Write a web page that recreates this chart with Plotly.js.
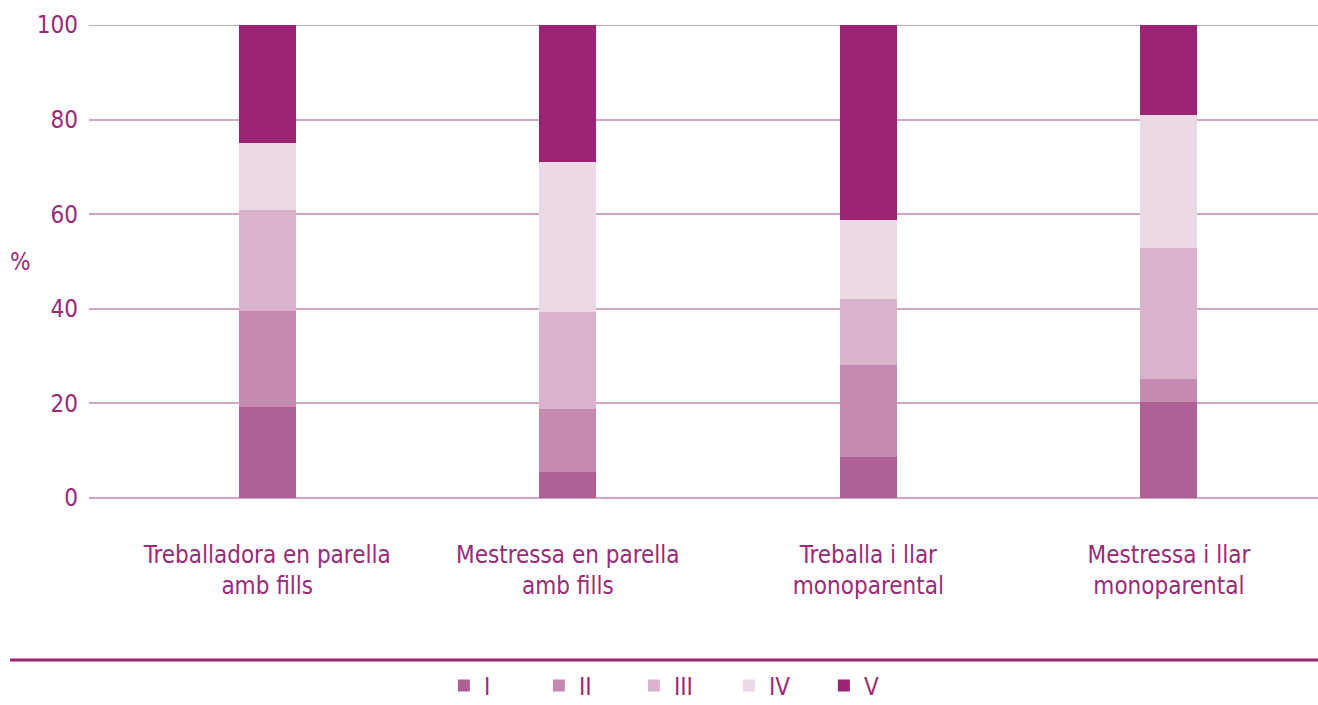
<!DOCTYPE html>
<html>
<head>
<meta charset="utf-8">
<script src="https://cdn.plot.ly/plotly-3.0.1.min.js"></script>
<style>html,body{margin:0;padding:0;background:#fff;}#chart{width:1318px;height:705px;}</style>
</head>
<body>
<div id="chart"></div>
<script>
const categories = [
  "Treballadora en parella<br>amb fills",
  "Mestressa en parella<br>amb fills",
  "Treballa i llar<br>monoparental",
  "Mestressa i llar<br>monoparental"
];
const seriesNames = ["I", "II", "III", "IV", "V"];
const valsI   = [19.2, 5.6, 8.7, 20.4];
const valsII  = [20.3, 13.3, 19.5, 4.7];
const valsIII = [21.3, 20.4, 13.8, 27.7];
const valsIV  = [14.2, 31.7, 16.8, 28.2];
const valsV   = [25.0, 29.0, 41.2, 19.0];
const yTicks = [0, 20, 40, 60, 80, 100];
const yUnit = "%";

const colors = ["#ad6094", "#c48aaf", "#d8b3cb", "#ebd9e5", "#9b2574"];
const seriesVals = [valsI, valsII, valsIII, valsIV, valsV];
const textColor = "#9b2a78";
const gridColor = "#d4a5c4";
const fontFam = "'Liberation Sans Narrow', 'DejaVu Sans Condensed', 'Roboto Condensed', sans-serif";

const traces = seriesNames.map((n, i) => ({
  type: "bar",
  name: n,
  x: categories,
  y: seriesVals[i],
  marker: {color: colors[i], line: {width: 0}},
  hoverinfo: "x+y+name"
}));

const layout = {
  width: 1318, height: 705,
  margin: {l: 89, r: 0, t: 25, b: 207, autoexpand: false},
  paper_bgcolor: "#ffffff",
  plot_bgcolor: "#ffffff",
  barmode: "stack",
  bargap: 0.81,
  font: {family: fontFam, color: textColor, size: 24},
  xaxis: {
    type: "category",
    range: [-0.593, 3.496],
    showgrid: false,
    showline: false,
    zeroline: false,
    automargin: false,
    ticks: "",
    ticklabelstandoff: 40,
    tickfont: {family: fontFam, color: textColor, size: 24}
  },
  yaxis: {
    range: [0, 100],
    tickvals: yTicks,
    ticktext: yTicks.map(String),
    showgrid: true,
    gridcolor: gridColor,
    gridwidth: 2,
    zeroline: true,
    zerolinecolor: gridColor,
    zerolinewidth: 2,
    showline: false,
    automargin: false,
    ticks: "",
    ticklabelstandoff: 10,
    tickfont: {family: fontFam, color: textColor, size: 24}
  },
  annotations: [{
    text: yUnit, xref: "paper", yref: "paper",
    x: -0.0561, y: 0.499, xanchor: "center", yanchor: "middle",
    showarrow: false,
    font: {family: fontFam, color: textColor, size: 24}
  }],
  showlegend: true,
  legend: {
    orientation: "h",
    x: 0.482, xanchor: "center",
    y: -0.397, yanchor: "middle",
    font: {family: fontFam, color: textColor, size: 24},
    traceorder: "normal",
    itemwidth: 30,
    entrywidth: 50
  },
  shapes: [
    {
      type: "line", xref: "paper", yref: "paper",
      x0: -0.0643, x1: 1, y0: -0.3425, y1: -0.3425,
      line: {color: "#9b2574", width: 3}
    },
    {
      type: "line", xref: "paper", yref: "y", layer: "below",
      x0: 0, x1: 1, y0: 100, y1: 100,
      line: {color: gridColor, width: 2}
    }
  ]
};

Plotly.newPlot("chart", traces, layout, {displayModeBar: false, staticPlot: true});
</script>
</body>
</html>
